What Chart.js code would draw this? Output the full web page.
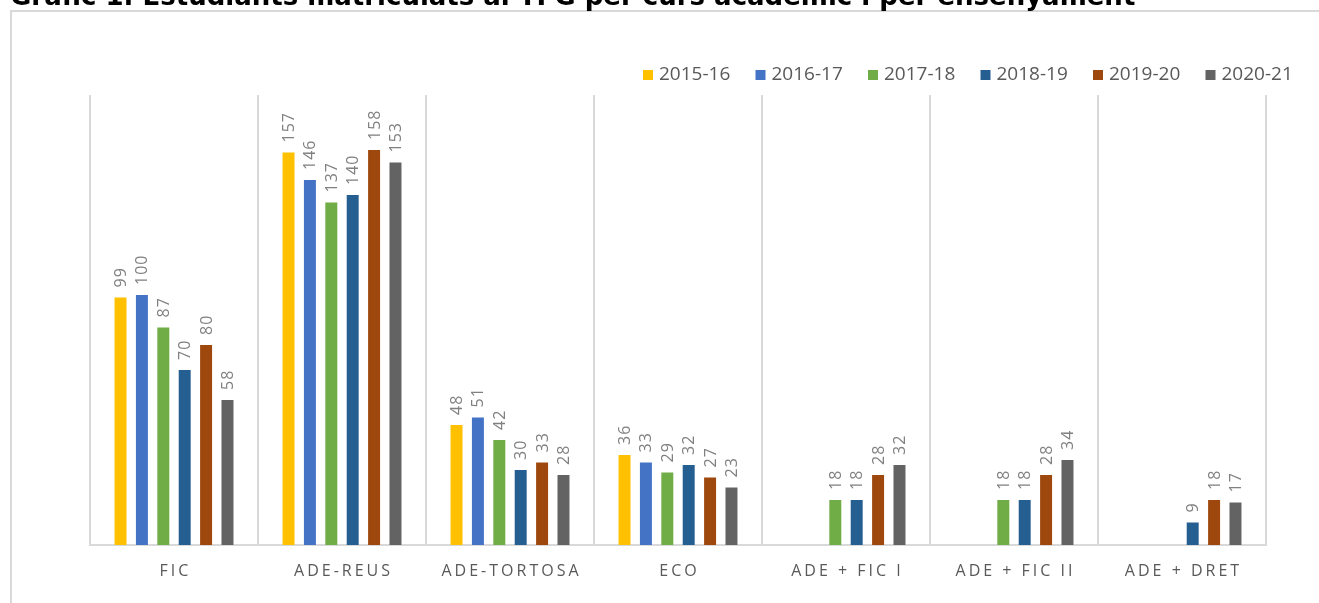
<!DOCTYPE html>
<html>
<head>
<meta charset="utf-8">
<script src="https://cdn.jsdelivr.net/npm/chart.js@4.4.1/dist/chart.umd.min.js"></script>
<style>
  html, body { margin: 0; padding: 0; background: #fff; }
  #wrap { width: 1319px; height: 603px; position: relative; }
</style>
</head>
<body>
<div id="wrap"><canvas id="tfgChart" width="1319" height="603"></canvas></div>
<script>
// Categories and values
const categories = ['FIC', 'ADE-REUS', 'ADE-TORTOSA', 'ECO', 'ADE + FIC I', 'ADE + FIC II', 'ADE + DRET'];
const courses = ['2015-16', '2016-17', '2017-18', '2018-19', '2019-20', '2020-21'];
const values1516 = [99, 157, 48, 36, null, null, null];
const values1617 = [100, 146, 51, 33, null, null, null];
const values1718 = [87, 137, 42, 29, 18, 18, null];
const values1819 = [70, 140, 30, 32, 18, 18, 9];
const values1920 = [80, 158, 33, 27, 28, 28, 18];
const values2021 = [58, 153, 28, 23, 32, 34, 17];
const courseColors = ['#FFC000', '#4472C4', '#70AD47', '#255E91', '#9E480E', '#636363'];

const titleText = 'Gràfic 1. Estudiants matriculats al TFG per curs acadèmic i per ensenyament';
const textGrey = '#595959';
const lineGrey = '#d9d9d9';

// Frame and title, drawn first
const framePlugin = {
  id: 'frame',
  beforeDraw(chart) {
    const ctx = chart.ctx;
    ctx.save();
    ctx.strokeStyle = lineGrey;
    ctx.lineWidth = 2;
    ctx.strokeRect(11, 11, 1400, 700);
    ctx.fillStyle = '#000';
    ctx.font = 'bold 26px "DejaVu Sans"';
    ctx.textBaseline = 'alphabetic';
    ctx.fillText(titleText, 10, 5);
    ctx.restore();
  }
};

// Rotated value labels above each bar
const valueLabels = {
  id: 'valueLabels',
  afterDatasetsDraw(chart) {
    const ctx = chart.ctx;
    ctx.save();
    ctx.fillStyle = '#808080';
    ctx.font = '16px "Open Sans"';
    ctx.letterSpacing = '1px';
    ctx.textAlign = 'left';
    ctx.textBaseline = 'middle';
    chart.data.datasets.forEach((ds, di) => {
      const meta = chart.getDatasetMeta(di);
      meta.data.forEach((bar, i) => {
        const v = ds.data[i];
        if (v === null || v === undefined) return;
        ctx.save();
        ctx.translate(bar.x + 1, bar.y - 10);
        ctx.rotate(-Math.PI / 2);
        ctx.fillText(String(v), 0, 0);
        ctx.restore();
      });
    });
    ctx.restore();
  }
};

// Spaced category labels and the legend row
const extras = {
  id: 'extras',
  afterDraw(chart) {
    const ctx = chart.ctx;
    const xScale = chart.scales.x;
    ctx.save();
    ctx.fillStyle = textGrey;
    ctx.font = '16px "Open Sans"';
    ctx.letterSpacing = '3px';
    ctx.textAlign = 'center';
    ctx.textBaseline = 'middle';
    categories.forEach((c, i) => {
      ctx.fillText(c, xScale.getPixelForValue(i) + 1.5, 571);
    });

    ctx.letterSpacing = '0px';
    ctx.font = '19px "Open Sans"';
    ctx.textAlign = 'left';
    let x = 643;
    chart.data.datasets.forEach((ds) => {
      ctx.fillStyle = ds.backgroundColor;
      ctx.fillRect(x, 70, 10, 10);
      ctx.fillStyle = textGrey;
      ctx.fillText(ds.label, x + 16, 75);
      x += 112.5;
    });
    ctx.restore();
  }
};

const seriesValues = [values1516, values1617, values1718, values1819, values1920, values2021];

const ctx = document.getElementById('tfgChart').getContext('2d');
new Chart(ctx, {
  type: 'bar',
  data: {
    labels: categories,
    datasets: courses.map((c, i) => ({
      label: c,
      data: seriesValues[i],
      backgroundColor: courseColors[i],
      borderWidth: 0,
      categoryPercentage: 0.764,
      barPercentage: 0.56
    }))
  },
  options: {
    responsive: false,
    animation: false,
    layout: { padding: { left: 90, right: 53, top: 95, bottom: 0 } },
    plugins: {
      legend: { display: false },
      tooltip: { enabled: false },
      title: { display: false }
    },
    scales: {
      x: {
        grid: { display: true, offset: true, color: lineGrey, lineWidth: 2, drawTicks: false },
        border: { display: true, color: lineGrey, width: 2 },
        ticks: { display: false },
        afterFit: (scale) => { scale.height = 58; }
      },
      y: {
        display: false,
        min: 0,
        max: 180
      }
    }
  },
  plugins: [framePlugin, valueLabels, extras]
});
</script>
</body>
</html>
